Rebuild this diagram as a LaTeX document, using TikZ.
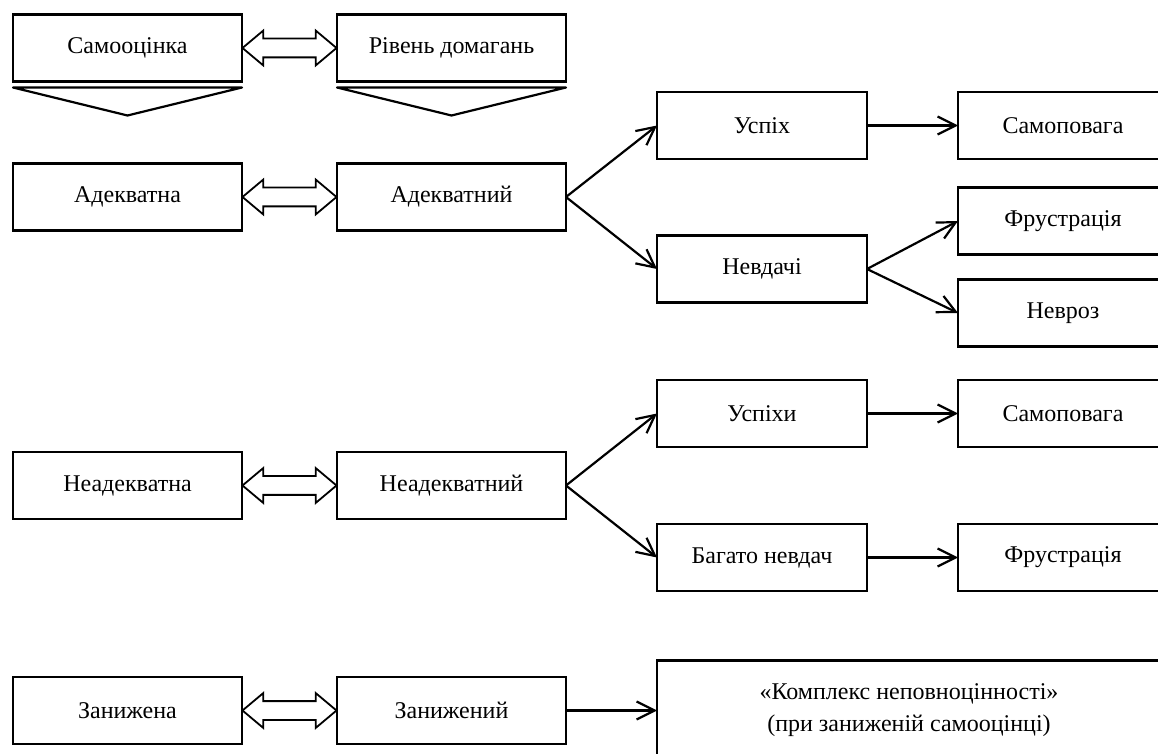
\documentclass[tikz,border=0pt]{standalone}
\usepackage{fontspec}
\setmainfont{Liberation Serif}
\usetikzlibrary{shapes.arrows, arrows.meta, positioning, calc}
\tikzstyle{Level} = [rectangle, draw, line width=1.1pt, outer sep=0pt,
                     minimum width=114.5pt, minimum height=33.5pt]
\tikzstyle{Outcome} = [rectangle, draw, line width=1.1pt, outer sep=0pt,
                       minimum width=105pt, minimum height=33.5pt]
\tikzstyle{Twin} = [double arrow, draw, line width=0.9pt, fill=white,
                    inner xsep=0pt, inner ysep=4.25pt,
                    minimum height=47pt, minimum width=16.5pt,
                    double arrow head extend=4pt, double arrow tip angle=80]

\begin{document}
\begin{tikzpicture}
    [align=center, font=\fontsize{12}{16}\selectfont, line width=1.1pt,
     >={Straight Barb[length=9pt,width=9pt]}]
    \useasboundingbox (0,0) rectangle (579pt,-377pt);

    %% Top
    \node [Level] (self) at (63.75pt,-24pt) {Самооцінка};
    \node [Level, right=47.5pt of self] (aspir) {Рівень домагань};

    %% Adequate
    \node [Level, below=41pt of self] (adeq) {Адекватна};
    \node [Level, right=47.5pt of adeq] (adeqlvl) {Адекватний};
    \node [Outcome, right=45.5pt of adeqlvl, yshift=35.75pt] (success) {Успіх};
    \node [Outcome, right=45.5pt of adeqlvl, yshift=-36pt] (failure) {Невдачі};
    \node [Outcome, right=45.5pt of success] (respect) {Самоповага};
    \node [Outcome, right=45.5pt of failure, yshift=24pt] (frustr) {Фрустрація};
    \node [Outcome, right=45.5pt of failure, yshift=-22pt] (neurosis) {Невроз};

    %% Inadequate
    \node [Level, below=110.75pt of adeq] (inadeq) {Неадекватна};
    \node [Level, right=47.5pt of inadeq] (inadeqlvl) {Неадекватний};
    \node [Outcome, right=45.5pt of inadeqlvl, yshift=36pt] (successes) {Успіхи};
    \node [Outcome, right=45.5pt of inadeqlvl, yshift=-36pt] (failures) {Багато невдач};
    \node [Outcome, right=45.5pt of successes] (respect2) {Самоповага};
    \node [Outcome, right=45.5pt of failures] (frustr2) {Фрустрація};

    %% Low
    \node [Level, below=79pt of inadeq] (low) {Занижена};
    \node [Level, right=47.5pt of low] (lowlvl) {Занижений};
    \node [Outcome, right=45.5pt of lowlvl, minimum width=252pt, minimum height=50pt]
        (complex) {«Комплекс неповноцінності»\\(при заниженій самооцінці)};

    %% Draw
    \foreach \a/\b in {self/aspir, adeq/adeqlvl, inadeq/inadeqlvl, low/lowlvl}
        \node [Twin] (\a-twin) at ($(\a.east)!0.5!(\b.west)$) {};
    \foreach \a in {self, aspir}
        \draw [line join=round] ([yshift=-3pt]\a.south west) -- ([yshift=-3pt]\a.south east)
            -- ([yshift=-17pt]\a.south) -- cycle;

    \draw [->] (adeqlvl.east) -- (success.west);
    \draw [->] (adeqlvl.east) -- (failure.west);
    \draw [->] (success) -- (respect);
    \draw [->] (failure.east) -- (frustr.west);
    \draw [->] (failure.east) -- (neurosis.west);
    \draw [->] (inadeqlvl.east) -- (successes.west);
    \draw [->] (inadeqlvl.east) -- (failures.west);
    \draw [->] (successes) -- (respect2);
    \draw [->] (failures) -- (frustr2);
    \draw [->] (lowlvl) -- (complex);

\end{tikzpicture}
\end{document}
